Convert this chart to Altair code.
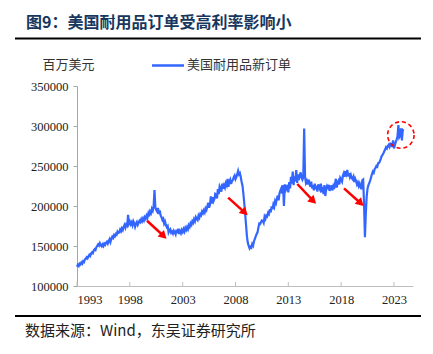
import altair as alt
import pandas as pd

# ---------------- data (monthly, millions USD) ----------------
y1993 = [124000, 126500, 125000, 128000, 127000, 129500, 128000, 131000, 130000, 133500, 134000, 136000]
y1994 = [134500, 137000, 139000, 137500, 140500, 142000, 141000, 144500, 146000, 145000, 148500, 150000]
y1995 = [152000, 150500, 153500, 151000, 149500, 152000, 150000, 153000, 151500, 154000, 155500, 153000]
y1996 = [156000, 158500, 155000, 159000, 161500, 160000, 163500, 162000, 165000, 164000, 168000, 166500]
y1997 = [167000, 170500, 168500, 172000, 170000, 174000, 176500, 173000, 177000, 175500, 189000, 178000]
y1998 = [180500, 177000, 179500, 176000, 181000, 178500, 174000, 177500, 180000, 176500, 179000, 181500]
y1999 = [180000, 183500, 181000, 184500, 182000, 186000, 184000, 188000, 185500, 190500, 187000, 193000]
y2000 = [191000, 196500, 194000, 199000, 220000, 198000, 195000, 193000, 197500, 190000, 194500, 188000]
y2001 = [186000, 182500, 184000, 178000, 180500, 176000, 173500, 175000, 167000, 169500, 171000, 166500]
y2002 = [168000, 165500, 169000, 167000, 164500, 170500, 166000, 171500, 165000, 168500, 166000, 170000]
y2003 = [167500, 171000, 168000, 172500, 170000, 173500, 171000, 176000, 174000, 178500, 176500, 181000]
y2004 = [179000, 183500, 181000, 186000, 184000, 182500, 188000, 185500, 190000, 188500, 193000, 191000]
y2005 = [194500, 192000, 197000, 195000, 199500, 204000, 198000, 201500, 212000, 203000, 211000, 206000]
y2006 = [208500, 215000, 214000, 209500, 221000, 215000, 224500, 222000, 218000, 228000, 221500, 226000]
y2007 = [223000, 228500, 226000, 234000, 224000, 230500, 233000, 227500, 231000, 232500, 236000, 238000]
y2008 = [233500, 236000, 240000, 244000, 239500, 241000, 236000, 230000, 225000, 215000, 203000, 190000]
y2009 = [176000, 162000, 154000, 150000, 147000, 149000, 148000, 152500, 150500, 156000, 159000, 162000]
y2010 = [165000, 167000, 173000, 178000, 177500, 180000, 182000, 181500, 179000, 186500, 184000, 188000]
y2011 = [187000, 191500, 190000, 196000, 192000, 199500, 196000, 202000, 199000, 206000, 203500, 209000]
y2012 = [213000, 207000, 216000, 219500, 222000, 215500, 226000, 200000, 227000, 219500, 222000, 226500]
y2013 = [217000, 230000, 222000, 236500, 228000, 243000, 226000, 237000, 231000, 245000, 229000, 239500]
y2014 = [232500, 238000, 242000, 236000, 233000, 236000, 297000, 236500, 229000, 231500, 227000, 233000]
y2015 = [229000, 224000, 230500, 222000, 226000, 219500, 228000, 221000, 225500, 218000, 227000, 223000]
y2016 = [220500, 228000, 217000, 224000, 215000, 226000, 212500, 221000, 225000, 223000, 226500, 219000]
y2017 = [222000, 226000, 219500, 224500, 221000, 228000, 234000, 223000, 229000, 231500, 227000, 235000]
y2018 = [233000, 230500, 238000, 241000, 236500, 243500, 240000, 245000, 237000, 241000, 236000, 239000]
y2019 = [235000, 233500, 236500, 230000, 234000, 231000, 227000, 229500, 225000, 228000, 224000, 221000]
y2020 = [232000, 233000, 203000, 161000, 190000, 212000, 222000, 226000, 229000, 232000, 236000, 240000]
y2021 = [243000, 241500, 246000, 247500, 250000, 249000, 253500, 254000, 256000, 259000, 262500, 264000]
y2022 = [266000, 268500, 271000, 273500, 272000, 275000, 276500, 274000, 278000, 277500, 274000, 282000]
y2023 = [272000, 276000, 280000, 283000, 287000, 301000, 286000, 288000, 297000, 282000, 295000, 294000]

years = list(range(1993, 2024))
series = [y1993, y1994, y1995, y1996, y1997, y1998, y1999, y2000, y2001, y2002,
          y2003, y2004, y2005, y2006, y2007, y2008, y2009, y2010, y2011, y2012,
          y2013, y2014, y2015, y2016, y2017, y2018, y2019, y2020, y2021, y2022, y2023]

tick_years = [1993, 1998, 2003, 2008, 2013, 2018, 2023]
y_ticks = [100000, 150000, 200000, 250000, 300000, 350000]

# arrows (start/end in data space)
arrow_x1 = [1999.63, 2007.31, 2013.85, 2018.27]
arrow_y1 = [181600, 210400, 227500, 222100]
arrow_x2 = [2001.20, 2008.88, 2015.36, 2019.85]
arrow_y2 = [162500, 191800, 206300, 203400]

circle_x = [2023.65]
circle_y = [288750]

title_text = "图9：美国耐用品订单受高利率影响小"
unit_text = "百万美元"
legend_text = "美国耐用品新订单"
source_text = "数据来源：Wind，东吴证券研究所"

BLUE = "#3366FF"
RED = "#FF0000"
CJK = "Noto Sans CJK SC"
SERIF = "Liberation Serif, Times New Roman, DejaVu Serif, serif"

# ---------------- tables ----------------
rows = []
for yr, vals in zip(years, series):
    for m, v in enumerate(vals):
        rows.append({"t": yr + m / 12.0, "v": v})
df = pd.DataFrame(rows)

arrows = pd.DataFrame({"x1": arrow_x1, "y1": arrow_y1, "x2": arrow_x2, "y2": arrow_y2})
circ = pd.DataFrame({"x": circle_x, "y": circle_y})
ticks_df = pd.DataFrame({"yr": tick_years})

xscale = alt.Scale(domain=[1993, 2024.8], nice=False, zero=False)
yscale = alt.Scale(domain=[100000, 350000], nice=False, zero=False)

line = alt.Chart(df).mark_line(color=BLUE, strokeWidth=2.2).encode(
    x=alt.X("t:Q", scale=xscale,
            axis=alt.Axis(values=tick_years, format="d", title=None, grid=False,
                          ticks=False, labelPadding=7, labelOverlap=False,
                          labelFont=SERIF, labelFontSize=12.5, labelColor="#222222",
                          domainColor="#BFBFBF", domainWidth=1)),
    y=alt.Y("v:Q", scale=yscale,
            axis=alt.Axis(values=y_ticks, format="d", title=None, grid=False,
                          tickSize=4, tickColor="#A6A6A6", labelPadding=5,
                          labelFont=SERIF, labelFontSize=12.5, labelColor="#222222",
                          labelOverlap=False, domainColor="#A6A6A6", domainWidth=1)),
)

xticks = alt.Chart(ticks_df).mark_rule(color="#BFBFBF", strokeWidth=1).encode(
    x=alt.X("yr:Q", scale=xscale, axis=None), y=alt.value(200), y2=alt.value(196)
)

shaft = alt.Chart(arrows).mark_rule(color=RED, strokeWidth=2.5).encode(
    x=alt.X("x1:Q", scale=xscale, axis=None), x2="x2:Q",
    y=alt.Y("y1:Q", scale=yscale, axis=None), y2="y2:Q",
)
head = alt.Chart(arrows).mark_point(shape="triangle-right", filled=True, color=RED,
                                    opacity=1, size=85, angle=44).encode(
    x=alt.X("x2:Q", scale=xscale, axis=None), y=alt.Y("y2:Q", scale=yscale, axis=None)
)

ring = alt.Chart(circ).mark_point(shape="circle", filled=False, color=RED, size=700,
                                  strokeWidth=1.6, strokeDash=[4, 3], opacity=1).encode(
    x=alt.X("x:Q", scale=xscale, axis=None), y=alt.Y("y:Q", scale=yscale, axis=None)
)


def text_layer(txt, x, y, size, weight="normal", color="#222222", font=CJK, align="left"):
    return alt.Chart(pd.DataFrame({"s": [txt]})).mark_text(
        align=align, baseline="middle", fontSize=size, fontWeight=weight,
        color=color, font=font).encode(x=alt.value(x), y=alt.value(y), text="s:N")


def hrule(x1, x2, y, w, color):
    return alt.Chart(pd.DataFrame({"a": [0]})).mark_rule(color=color, strokeWidth=w).encode(
        x=alt.value(x1), x2=alt.value(x2), y=alt.value(y))


title = text_layer(title_text, -51, -63, 16, weight="bold", color="#17375E")
title_rule = hrule(-62, 344, -47.5, 2, "#000000")
unit = text_layer(unit_text, -8.5, -21, 13, align="center", color="#333333")
leg_line = hrule(75, 107, -20.5, 2.5, BLUE)
leg_text = text_layer(legend_text, 110, -21, 13, color="#333333")
foot_rule = hrule(-62, 344, 230, 2, "#000000")
source = text_layer(source_text, -52, 245, 15, color="#222222")

chart = alt.layer(
    line, xticks, shaft, head, ring,
    title, title_rule, unit, leg_line, leg_text, foot_rule, source,
).resolve_axis(x="independent", y="independent").properties(
    width=336, height=200,
    autosize=alt.AutoSizeParams(type="none"),
    padding={"left": 77, "top": 86, "right": 20, "bottom": 68},
    background="white",
).configure_view(strokeWidth=0)

chart.save("out.html", embed_options={"renderer": "svg", "actions": False})
